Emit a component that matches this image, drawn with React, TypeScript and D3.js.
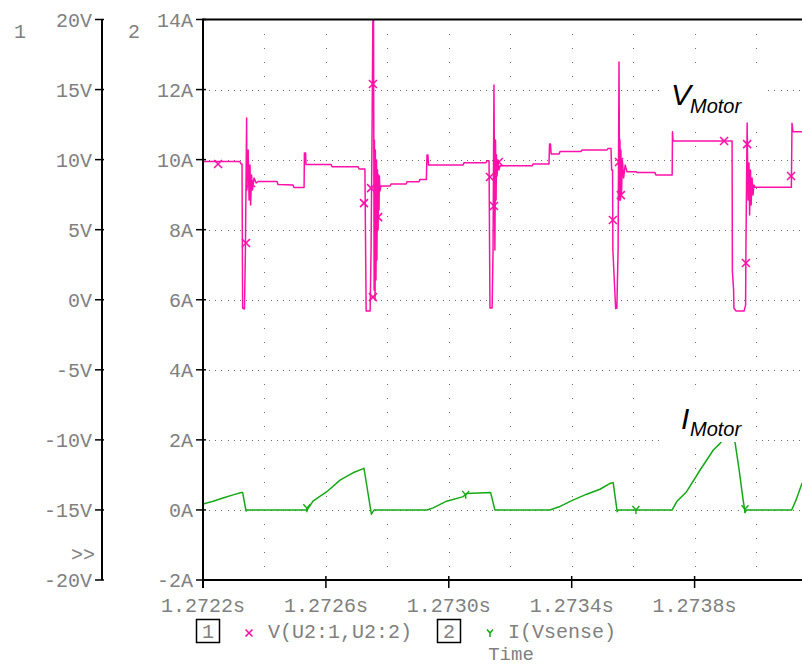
import React from "react";
import * as d3 from "d3";

// ---------- data ----------
const T0 = 1.2722; // s, start of the time window
const timeTicks = [1.2722, 1.2726, 1.273, 1.2734, 1.2738];
const voltTicks = [20, 15, 10, 5, 0, -5, -10, -15, -20];
const ampTicks = [14, 12, 10, 8, 6, 4, 2, 0, -2];

// V(U2:1,U2:2) — time in µs after T0, value in V
const vMotorUs = [0, 120, 124, 127, 129, 135, 138, 142, 143, 147, 150, 153, 155, 158, 161, 166, 173, 179, 241, 244, 293, 296, 329, 330, 334, 335, 417, 420, 505, 508, 527, 531, 544, 547, 550, 553, 555, 557, 558, 560, 561, 563, 565, 566, 568, 570, 571, 573, 574, 576, 579, 609, 612, 661, 664, 703, 706, 727, 729, 732, 734, 846, 850, 921, 924, 931, 934, 941, 944, 947, 950, 952, 954, 955, 957, 960, 963, 967, 1071, 1074, 1126, 1128, 1131, 1133, 1159, 1162, 1230, 1234, 1315, 1318, 1328, 1330, 1333, 1334, 1343, 1347, 1351, 1354, 1356, 1357, 1359, 1360, 1362, 1365, 1369, 1374, 1380, 1409, 1413, 1471, 1474, 1527, 1528, 1530, 1722, 1723, 1727, 1728, 1735, 1761, 1766, 1767, 1771, 1774, 1777, 1779, 1782, 1784, 1787, 1790, 1793, 1797, 1915, 1917, 1920, 1950];
const vMotorV = [9.86, 9.86, 9.69, 9.69, -0.59, -0.66, 3.55, 12.97, 7.83, 10.69, 7.12, 9.61, 6.76, 8.9, 7.83, 8.69, 8.33, 8.44, 8.44, 8.22, 8.19, 8.01, 8.01, 10.47, 10.47, 9.65, 9.65, 9.49, 9.49, 9.33, 9.33, -0.8, -0.8, 3.55, 11.4, 20.5, 20.5, 0.69, 11.4, -0.02, 10.69, 1.41, 9.97, 2.83, 9.26, 4.98, 8.9, 6.4, 8.83, 7.76, 8.12, 8.12, 8.26, 8.26, 8.42, 8.42, 8.59, 8.59, 10.33, 10.33, 9.61, 9.61, 9.78, 9.78, 9.92, 9.92, -0.59, -0.59, 3.55, 15.32, 3.55, 11.4, 7.12, 10.33, 8.83, 9.97, 9.26, 9.56, 9.56, 9.69, 9.69, 11.11, 11.11, 10.4, 10.4, 10.58, 10.58, 10.69, 10.69, 10.79, 10.79, 9.26, 9.26, 3.55, -0.63, -0.59, 3.55, 16.97, 7.12, 11.4, 7.12, 10.69, 7.47, 9.97, 8.69, 9.61, 9.14, 9.14, 9.08, 9.08, 8.9, 8.9, 11.99, 11.33, 11.33, 2.05, 0.69, -0.59, -0.81, -0.81, -0.38, 3.55, 12.61, 7.12, 9.76, 6.05, 9.26, 6.76, 8.69, 7.47, 8.19, 8.02, 8.02, 12.59, 11.99, 11.99];
const vMarkUs = [49, 140, 156, 524, 547, 553, 570, 553, 934, 947, 963, 1334, 1354, 1360, 1696, 1767, 1771, 1914];
const vMarkV = [9.69, 4.05, 8.33, 6.9, 7.97, 15.4, 5.9, 0.19, 8.76, 6.69, 9.83, 5.69, 9.83, 7.47, 11.33, 2.62, 11.11, 8.83];

// I(Vsense) — time in µs after T0, value in A
const iMotorUs = [0, 33, 65, 98, 125, 129, 140, 143, 339, 358, 403, 446, 488, 522, 524, 548, 557, 729, 749, 793, 847, 858, 936, 950, 1129, 1162, 1204, 1249, 1292, 1325, 1335, 1348, 1352, 1527, 1542, 1574, 1618, 1661, 1683, 1715, 1732, 1745, 1758, 1764, 1769, 1916, 1930, 1950];
const iMotorA = [0.17, 0.25, 0.34, 0.43, 0.5, 0.5, -0.03, 0, 0, 0.25, 0.52, 0.85, 1.06, 1.18, 1.19, -0.12, 0, 0, 0.06, 0.25, 0.38, 0.47, 0.5, 0, 0, 0.1, 0.28, 0.45, 0.59, 0.76, 0.78, -0.05, 0, 0, 0.24, 0.52, 1.14, 1.71, 1.9, 2.28, 1.91, 1.14, 0.28, -0.06, 0, 0, 0.28, 0.77];
const iMarkUs = [338, 855, 1409, 1764];
const iMarkA = [0.05, 0.43, 0, 0.02];

// ---------- layout ----------
const W = 802;
const H = 665;
const PL = 203;
const PR = 802;
const PT = 19.5;
const PB = 580;
const AX1 = 102;
const PINK = "#ff10a8";
const GREEN = "#14a914";
const GREY = "#808080";
const MONO = "'Liberation Mono', 'DejaVu Sans Mono', monospace";
const SANS = "'Liberation Sans', Arial, sans-serif";

const x = d3.scaleLinear().domain([1.2722, 1.2738]).range([PL, 694.6]);
const yV = d3.scaleLinear().domain([-20, 20]).range([PB, PT]);
const yA = d3.scaleLinear().domain([-2, 14]).range([PB, PT]);

const tOf = (us: number) => T0 + us * 1e-6;

export default function App() {
  const vPts: [number, number][] = vMotorUs.map((u, i) => [tOf(u), vMotorV[i]]);
  const iPts: [number, number][] = iMotorUs.map((u, i) => [tOf(u), iMotorA[i]]);
  const vLine = d3.line<[number, number]>().x((d) => x(d[0])).y((d) => yV(d[1]))(vPts) || "";
  const iLine = d3.line<[number, number]>().x((d) => x(d[0])).y((d) => yA(d[1]))(iPts) || "";

  // dotted grid
  const dots: { x: number; y: number }[] = [];
  const tEnd = x.invert(PR);
  for (let t = T0 + 0.0002; t < tEnd; t += 0.0002) {
    const gx = Math.round(x(t));
    for (let a = 14 - 0.4; a > -2 + 0.01; a -= 0.4) {
      dots.push({ x: gx, y: Math.round(yA(a)) });
    }
  }
  ampTicks
    .filter((a) => a !== 14 && a !== -2)
    .forEach((a) => {
      const gy = Math.round(yA(a));
      for (let t = T0 + 0.00002; t < tEnd; t += 0.00002) {
        dots.push({ x: Math.round(x(t)), y: gy });
      }
    });

  const xMark = "M-4,-4L4,4M-4,4L4,-4";
  const yMark = "M-3.5,-4L0,0L3.5,-4M0,0L0,4";

  return (
    <svg
      width={W}
      height={H}
      style={{ position: "absolute", left: 0, top: 0, background: "#fff" }}
    >
      <defs>
        <clipPath id="plotClip">
          <rect x={PL} y={PT} width={PR - PL} height={PB - PT} />
        </clipPath>
      </defs>
      <rect x={0} y={0} width={W} height={H} fill="#fff" />

      {/* grid dots */}
      <g fill="#6a6a6a">
        {dots.map((d, i) => (
          <rect key={i} x={d.x} y={d.y} width={1} height={1} />
        ))}
      </g>

      {/* traces */}
      <g clipPath="url(#plotClip)">
        <path d={vLine} fill="none" stroke={PINK} strokeWidth={1.5} strokeLinejoin="round" />
        <path d={iLine} fill="none" stroke={GREEN} strokeWidth={1.5} strokeLinejoin="round" />
        {vMarkUs.map((u, i) => (
          <path
            key={"vm" + i}
            d={xMark}
            transform={`translate(${x(tOf(u))},${yV(vMarkV[i])})`}
            stroke={PINK}
            strokeWidth={1.6}
            fill="none"
          />
        ))}
        {iMarkUs.map((u, i) => (
          <path
            key={"im" + i}
            d={yMark}
            transform={`translate(${x(tOf(u))},${yA(iMarkA[i])})`}
            stroke={GREEN}
            strokeWidth={1.4}
            fill="none"
          />
        ))}
      </g>

      {/* annotation label backgrounds (drawn over the traces, as in the reference) */}
      <rect x={662} y={66} width={102} height={56} fill="#fff" />
      <rect x={660} y={398} width={92} height={44} fill="#fff" />

      {/* frame: top border, left axis 2, bottom axis */}
      <line x1={PL} x2={PR} y1={PT} y2={PT} stroke="#000" strokeWidth={2} />
      <line x1={PL} x2={PL} y1={PT - 1} y2={PB + 8} stroke="#000" strokeWidth={2} />
      <line x1={PL} x2={PR} y1={PB} y2={PB} stroke="#000" strokeWidth={2} />

      {/* x ticks */}
      {timeTicks.map((t) => (
        <g key={t}>
          <line x1={x(t)} x2={x(t)} y1={PB - 4} y2={PB + 8} stroke="#000" strokeWidth={1.5} />
          <text
            x={x(t)}
            y={612}
            textAnchor="middle"
            fontFamily={MONO}
            fontSize={20}
            fill={GREY}
          >
            {t.toFixed(4) + "s"}
          </text>
        </g>
      ))}

      {/* axis 1 (volts) */}
      <line x1={AX1} x2={AX1} y1={PT} y2={PB} stroke="#000" strokeWidth={2} />
      {voltTicks.map((v) => (
        <g key={"v" + v}>
          <line x1={95} x2={104} y1={yV(v)} y2={yV(v)} stroke="#000" strokeWidth={1.5} />
          <text x={92} y={yV(v) + 7} textAnchor="end" fontFamily={MONO} fontSize={20} fill={GREY}>
            {`${v}V`}
          </text>
        </g>
      ))}

      {/* axis 2 (amps) */}
      {ampTicks.map((a) => (
        <g key={"a" + a}>
          <line x1={196} x2={206} y1={yA(a)} y2={yA(a)} stroke="#000" strokeWidth={1.5} />
          <text x={193} y={yA(a) + 7} textAnchor="end" fontFamily={MONO} fontSize={20} fill={GREY}>
            {`${a}A`}
          </text>
        </g>
      ))}

      <text x={14} y={38} fontFamily={MONO} fontSize={20} fill={GREY}>1</text>
      <text x={128} y={38} fontFamily={MONO} fontSize={20} fill={GREY}>2</text>
      <text x={71} y={561} fontFamily={MONO} fontSize={20} fill={GREY}>{">>"}</text>

      {/* legend */}
      <rect x={196.5} y={619.5} width={23} height={23} fill="none" stroke="#000" strokeWidth={1.5} />
      <text x={208} y={638} textAnchor="middle" fontFamily={MONO} fontSize={20} fill={GREY}>1</text>
      <path d="M-3.5,-3.5L3.5,3.5M-3.5,3.5L3.5,-3.5" transform="translate(249,633)" stroke={PINK} strokeWidth={1.6} fill="none" />
      <text x={268} y={638} fontFamily={MONO} fontSize={20} fill={GREY}>V(U2:1,U2:2)</text>
      <rect x={437.5} y={619.5} width={23} height={23} fill="none" stroke="#000" strokeWidth={1.5} />
      <text x={449} y={638} textAnchor="middle" fontFamily={MONO} fontSize={20} fill={GREY}>2</text>
      <path d="M-3,-3.5L0,0L3,-3.5M0,0L0,4" transform="translate(490,633)" stroke={GREEN} strokeWidth={1.5} fill="none" />
      <text x={508} y={638} fontFamily={MONO} fontSize={20} fill={GREY}>I(Vsense)</text>
      <text x={511} y={660} textAnchor="middle" fontFamily={MONO} fontSize={19} fill={GREY}>Time</text>

      {/* annotations */}
      <text x={671} y={105} fontFamily={SANS} fontStyle="italic" fontSize={30} fill="#000">V</text>
      <text x={690} y={112.5} fontFamily={SANS} fontStyle="italic" fontSize={20} fill="#000">Motor</text>
      <text x={681} y={429} fontFamily={SANS} fontStyle="italic" fontSize={30} fill="#000">I</text>
      <text x={690} y={436} fontFamily={SANS} fontStyle="italic" fontSize={20} fill="#000">Motor</text>
    </svg>
  );
}
